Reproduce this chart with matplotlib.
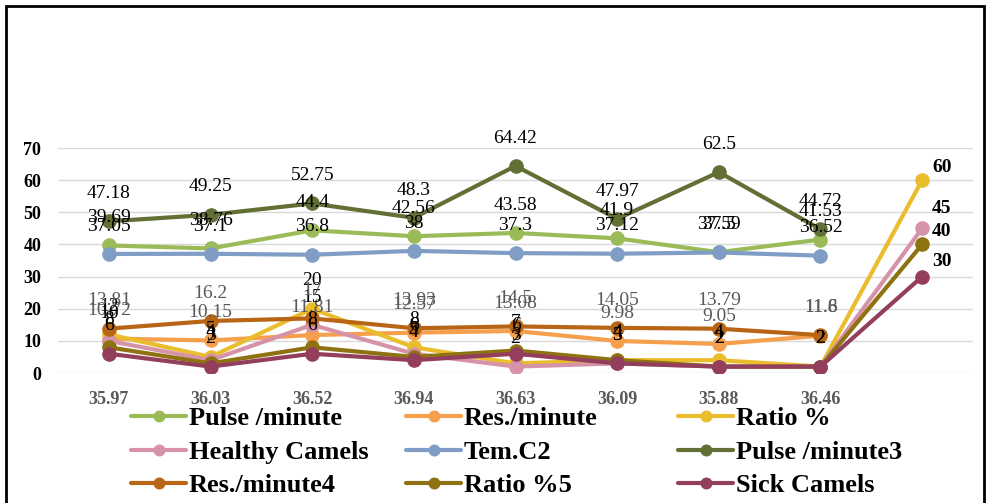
import matplotlib.pyplot as plt
from matplotlib.patches import Rectangle

plt.rcParams['font.family'] = ['Liberation Serif', 'DejaVu Serif']

# categories (temperature readings) and series values
cats = ['35.97', '36.03', '36.52', '36.94', '36.63', '36.09', '35.88', '36.46', '']
pulse = [39.69, 38.76, 44.4, 42.56, 43.58, 41.9, 37.59, 41.53]
res = [10.72, 10.15, 11.81, 12.57, 13.08, 9.98, 9.05, 11.6]
ratio = [12, 5, 20, 8, 3, 4, 4, 2, 60]
healthy = [10, 4, 15, 6, 2, 3, 2, 2, 45]
tem = [37.05, 37.1, 36.8, 38, 37.3, 37.12, 37.5, 36.52]
pulse3 = [47.18, 49.25, 52.75, 48.3, 64.42, 47.97, 62.5, 44.72]
res4 = [13.81, 16.2, 17, 13.93, 14.5, 14.05, 13.79, 11.8]
ratio5 = [8, 3, 8, 5, 7, 4, 2, 2, 40]
sick = [6, 2, 6, 4, 6, 3, 2, 2, 30]

series = [
    ('Pulse /minute', pulse, '#9BBB59', 'black'),
    ('Res./minute', res, '#F6A04D', '#595959'),
    ('Ratio %', ratio, '#E9BD2B', 'black'),
    ('Healthy Camels', healthy, '#D693A8', 'black'),
    ('Tem.C2', tem, '#7F9DC5', 'black'),
    ('Pulse /minute3', pulse3, '#627036', 'black'),
    ('Res./minute4', res4, '#B86516', '#595959'),
    ('Ratio %5', ratio5, '#8E7212', 'black'),
    ('Sick Camels', sick, '#943E5E', 'black'),
]
# offsets for the labels on the last category
end_offsets = {'Ratio %': 9, 'Healthy Camels': 14, 'Ratio %5': 9, 'Sick Camels': 11}

fig = plt.figure(figsize=(9.87, 5.03), dpi=100)
ax = fig.add_axes([0.0588, 0.2584, 0.927, 0.4473])

handles = {}
for name, vals, col, lblcol in series:
    xs = list(range(len(vals)))
    h, = ax.plot(xs, vals, color=col, lw=3, marker='o', ms=9.5, label=name,
                 solid_capstyle='round')
    handles[name] = h
    for x, v in zip(xs, vals):
        txt = f'{v:g}'
        if x == 8:
            ax.annotate(txt, (x, v), xytext=(7, end_offsets[name]),
                        textcoords='offset points', ha='left', va='center',
                        fontsize=14, fontweight='bold', color='black')
        else:
            ax.annotate(txt, (x, v), xytext=(0, 20), textcoords='offset points',
                        ha='center', va='center', fontsize=14, color=lblcol)

ax.set_xlim(-0.5, 8.5)
ax.set_ylim(0, 70)
ax.set_yticks(range(0, 71, 10))
ax.set_xticks(range(len(cats)))
ax.set_xticklabels(cats, color='#595959', fontsize=13, fontweight='bold')
for t in ax.get_yticklabels():
    t.set_fontweight('bold')
    t.set_fontsize(13)
ax.tick_params(length=0, pad=13)
ax.tick_params(axis='y', pad=12)
ax.grid(axis='y', color='#D9D9D9', lw=1)
ax.set_axisbelow(True)
for s in ax.spines.values():
    s.set_visible(False)

# legend in three equally spaced columns
cols = [['Pulse /minute', 'Healthy Camels', 'Res./minute4'],
        ['Res./minute', 'Tem.C2', 'Ratio %5'],
        ['Ratio %', 'Pulse /minute3', 'Sick Camels']]
for i, names in enumerate(cols):
    x0 = [131, 406, 678][i] / 987
    fig.legend([handles[n] for n in names], names, loc='upper left',
               bbox_to_anchor=(x0, 1 - 407 / 503), frameon=False,
               borderpad=0, borderaxespad=0, handlelength=2.1,
               handletextpad=0.1, labelspacing=0.38, markerscale=0.8,
               prop={'size': 19, 'weight': 'bold'})

fig.patches.append(Rectangle((6 / 987, -0.05), 978 / 987, 1.05 - 6 / 503,
                             transform=fig.transFigure, fill=False,
                             edgecolor='black', lw=2))

fig.savefig('out.png', dpi=100)
